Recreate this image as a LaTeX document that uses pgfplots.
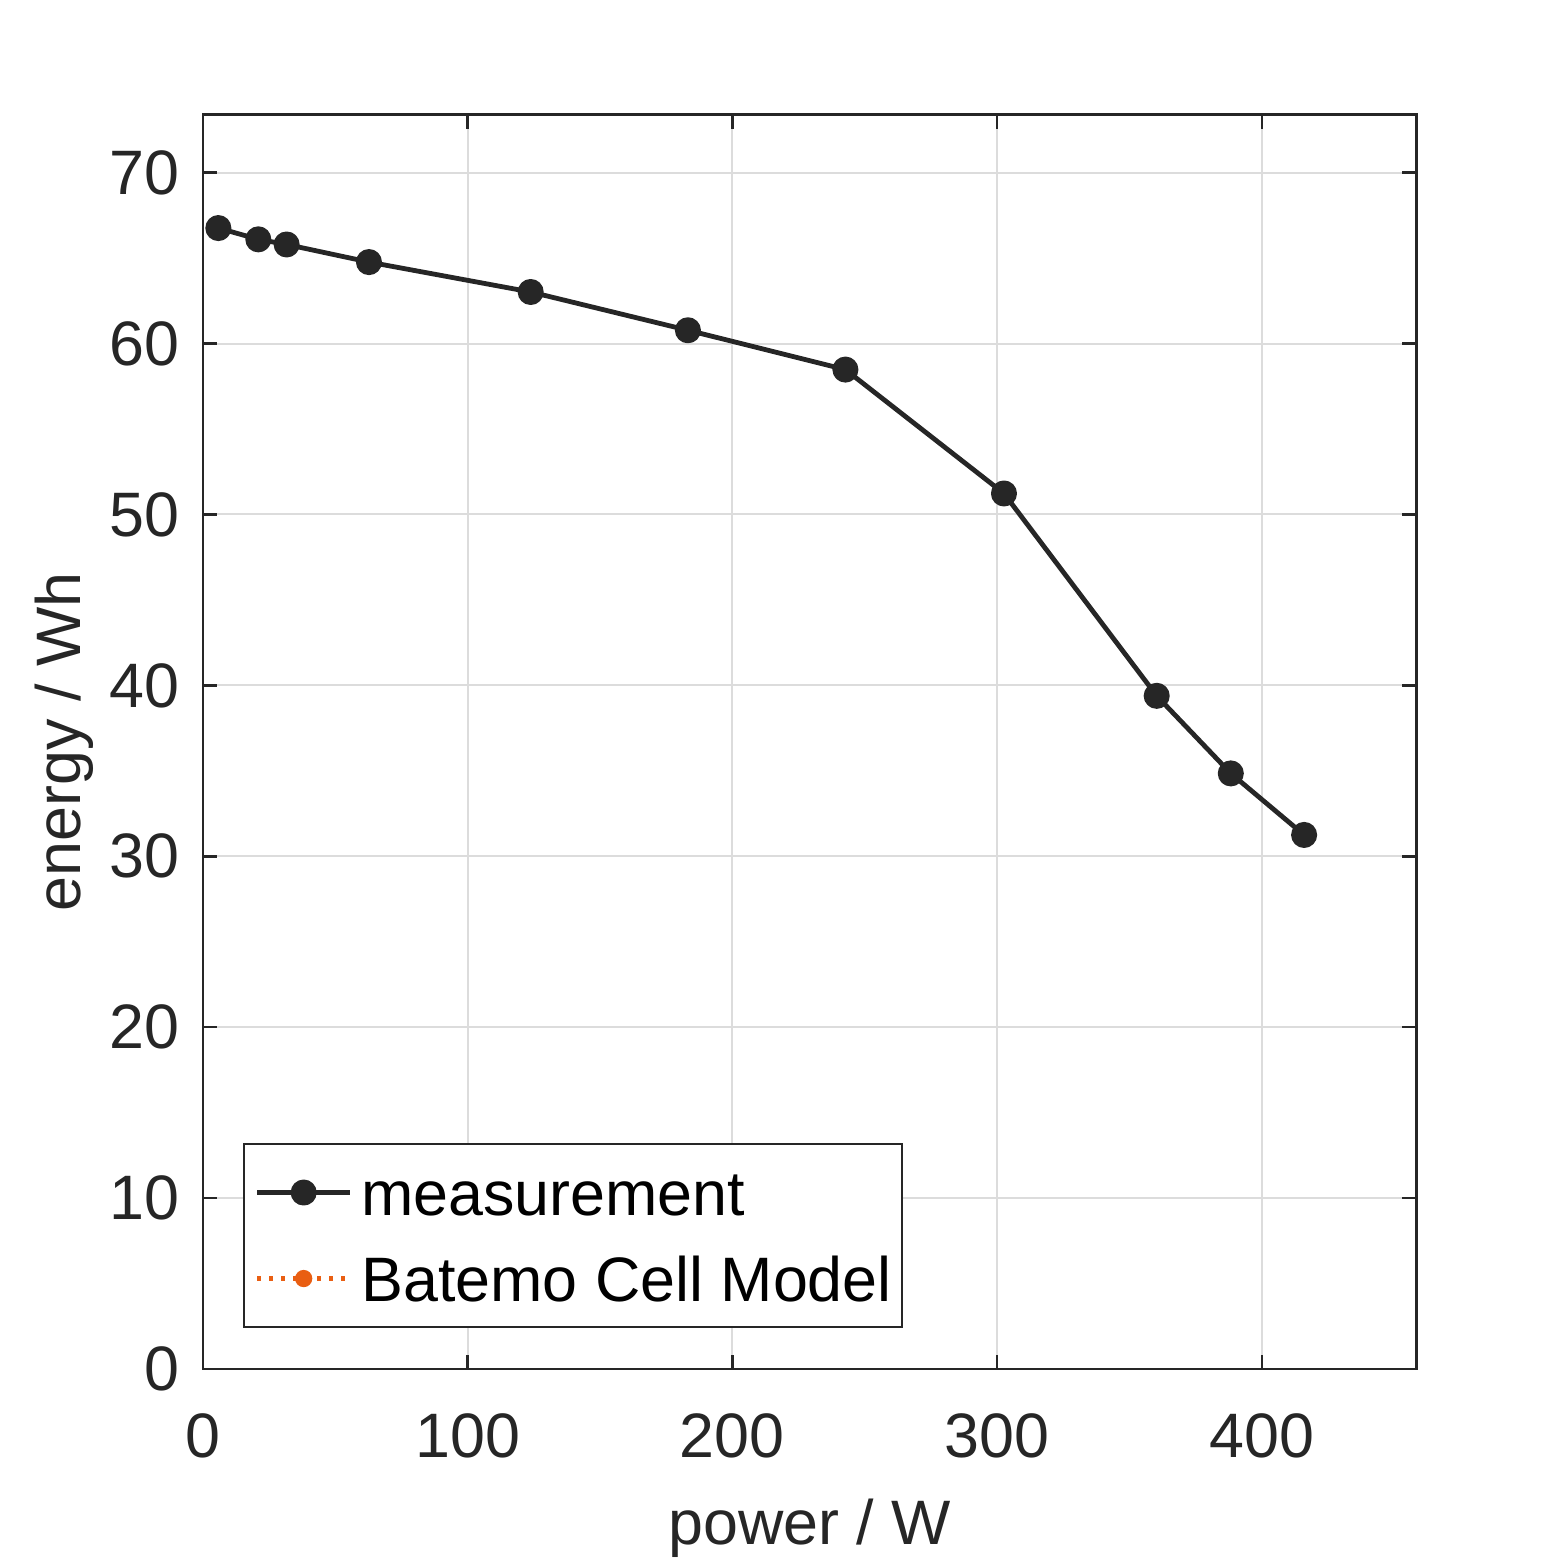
\documentclass[border=0pt]{standalone}
\usepackage{fontspec}
\setmainfont{Liberation Sans}
\usepackage{pgfplots}
\pgfplotsset{compat=1.18}
\definecolor{axgray}{RGB}{38,38,38}
\definecolor{gridgray}{RGB}{220,220,220}
\definecolor{orng}{RGB}{233,94,18}
\newcommand{\fs}{\fontsize{15.7}{18.8}\selectfont}
\begin{document}
\begin{tikzpicture}
\path[use as bounding box] (-50.75pt,-48.5pt) rectangle (340pt,342.25pt);
\begin{axis}[
  at={(0pt,0pt)}, anchor=south west,
  scale only axis, width=303.4pt, height=313.6pt,
  xmin=0, xmax=458.5, ymin=0, ymax=73.4,
  xtick={0,100,200,300,400}, ytick={0,10,20,30,40,50,60,70},
  grid=major, major grid style={gridgray, line width=0.5pt},
  tick align=inside, major tick length=3.6pt,
  axis line style={axgray, line width=0.6pt},
  tick style={axgray, line width=0.6pt},
  every tick label/.append style={font=\fs, text=axgray},
  /pgf/number format/assume math mode=true,
  xticklabel style={anchor=base, yshift=-22pt},
  yticklabel style={anchor=east, inner sep=0pt, xshift=-5.6pt},
  xlabel={power / W},
  xlabel style={at={(axis description cs:0.5,-0.1401)}, anchor=base, font=\fs, text=axgray},
  ylabel={energy / Wh},
  ylabel style={at={(axis description cs:-0.1013,0.5)}, anchor=base, font=\fs, text=axgray},
  legend style={at={(axis description cs:0.0332,0.0329)}, anchor=south west,
    draw=axgray, line width=0.5pt, fill=white, font=\fs, text=black,
    inner xsep=2.6pt, inner ysep=4.8pt, row sep=7pt, column sep=0pt,
    nodes={inner sep=0pt, text height=13pt, text depth=1.5pt},
    cells={anchor=west}},
  legend image code/.code={\draw[mark repeat=2,mark phase=2] plot coordinates {(0pt,0pt) (11.65pt,0pt) (23.3pt,0pt)};\path (25.45pt,0pt);},
]
\addplot[axgray, line width=1.2pt, line join=round, mark=*, mark size=2.65pt, mark options={solid, fill=axgray}] coordinates {
(5.8,66.76) (20.9,66.1) (31.6,65.8) (62.7,64.77) (123.8,63.02) (183.2,60.78)
(242.7,58.48) (302.6,51.23) (360.3,39.39) (388.3,34.85) (416.0,31.25)
};
\addlegendentry{measurement}
\addlegendimage{orng, line width=1.1pt, dash pattern=on 1pt off 2pt, mark=*, mark size=1.6pt, mark options={solid, fill=orng}}
\addlegendentry{Batemo Cell Model}
\end{axis}
\end{tikzpicture}
\end{document}
